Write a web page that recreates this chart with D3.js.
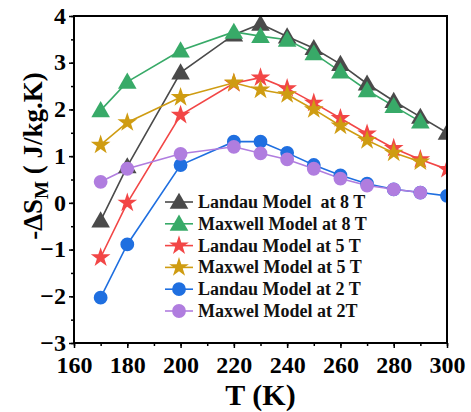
<!DOCTYPE html>
<html>
<head>
<meta charset="utf-8">
<script src="https://cdn.jsdelivr.net/npm/d3@7"></script>
<style>
  body { margin: 0; background: #fff; }
  svg text { font-family: "Liberation Serif", "Times New Roman", serif !important; font-weight: bold; }
</style>
</head>
<body>
<script>
const w = 471;
const h = 412;

const temps = [170, 180, 200, 220, 230, 240, 250, 260, 270, 280, 290, 300];
const landau8 = [-0.38, 0.78, 2.79, 3.6, 3.83, 3.56, 3.31, 2.97, 2.55, 2.18, 1.84, 1.5];
const maxwell8 = [1.98, 2.59, 3.26, 3.66, 3.57, 3.49, 3.2, 2.81, 2.41, 2.07, 1.74];
const landau5 = [-1.17, 0.0, 1.88, 2.56, 2.68, 2.45, 2.14, 1.81, 1.48, 1.17, 0.93, 0.72];
const maxwel5 = [1.24, 1.72, 2.26, 2.57, 2.42, 2.32, 2.0, 1.65, 1.34, 1.07, 0.88];
const landau2 = [-2.03, -0.89, 0.81, 1.31, 1.31, 1.07, 0.81, 0.59, 0.41, 0.29, 0.22, 0.15];
const maxwel2 = [0.45, 0.73, 1.05, 1.2, 1.06, 0.93, 0.73, 0.52, 0.37, 0.29, 0.22];

const seriesNames = [
  "Landau Model  at 8 T",
  "Maxwell Model at 8 T",
  "Landau Model at 5 T",
  "Maxwel Model at 5 T",
  "Landau Model at 2 T",
  "Maxwel Model at 2T"
];
const seriesValues = [landau8, maxwell8, landau5, maxwel5, landau2, maxwel2];
const colors = ["#4a4a4a", "#38aa68", "#f24646", "#cf9c12", "#1f6fe0", "#b07ddf"];
const shapes = ["triangle", "triangle", "star", "star", "circle", "circle"];

const xTicks = [160, 180, 200, 220, 240, 260, 280, 300];
const yTicks = [-3, -2, -1, 0, 1, 2, 3, 4];

const m = { t: 16, r: 24, b: 69, l: 74 };
const gw = w - m.l - m.r;
const gh = h - m.t - m.b;

const svg = d3.select("body").append("svg").attr("width", w).attr("height", h);

const x = d3.scaleLinear().domain([160, 300]).range([0, gw]);
const y = d3.scaleLinear().domain([-3, 4]).range([gh, 0]);

const g = svg.append("g").attr("transform", `translate(${m.l}, ${m.t})`);

g.append("clipPath").attr("id", "plot")
  .append("rect").attr("width", gw).attr("height", gh);

const symbolFor = (s) => {
  if (s === "triangle") return d3.symbol().type(d3.symbolTriangle).size(150)();
  if (s === "star") return d3.symbol().type(d3.symbolStar).size(120)();
  return d3.symbol().type(d3.symbolCircle).size(150)();
};

// minor ticks
const xMinor = d3.range(160, 301, 10);
const yMinor = d3.range(-3, 4.01, 0.5);

const xAxis = d3.axisBottom(x).tickValues(xTicks).tickSize(5).tickPadding(8).tickFormat(d3.format("d"));
const xAxisG = g.append("g").attr("transform", `translate(0, ${gh})`).call(xAxis);
g.append("g").attr("transform", `translate(0, ${gh})`)
  .call(d3.axisBottom(x).tickValues(xMinor).tickSize(3).tickFormat(""))
  .call((a) => a.select(".domain").remove());

const yAxis = d3.axisLeft(y).tickValues(yTicks).tickSize(5).tickPadding(3).tickFormat(d3.format("d"));
const yAxisG = g.append("g").call(yAxis);
g.append("g")
  .call(d3.axisLeft(y).tickValues(yMinor).tickSize(3).tickFormat(""))
  .call((a) => a.select(".domain").remove());

g.selectAll(".tick line").attr("stroke", "#000").attr("stroke-width", 1.5);
g.selectAll(".domain").remove();
[xAxisG, yAxisG].forEach((a) => {
  a.attr("font-family", "Liberation Serif").attr("font-size", 24);
  a.selectAll("text").attr("fill", "#000");
});
yAxisG.selectAll("text").attr("dy", "0.3em");

// series
const plot = g.append("g").attr("clip-path", "url(#plot)");
seriesValues.forEach((vals, i) => {
  const pts = vals.map((v, j) => [temps[j], v]);
  plot.append("path")
    .datum(pts)
    .attr("fill", "none")
    .attr("stroke", colors[i])
    .attr("stroke-width", 1.6)
    .attr("d", d3.line().x((d) => x(d[0])).y((d) => y(d[1])));
});
seriesValues.forEach((vals, i) => {
  const pts = vals.map((v, j) => [temps[j], v]);
  plot.selectAll(null)
    .data(pts)
    .enter()
    .append("path")
    .attr("d", symbolFor(shapes[i]))
    .attr("fill", colors[i])
    .attr("transform", (d) => `translate(${x(d[0])}, ${y(d[1]) + (shapes[i] === "triangle" ? 1.5 : 0)})`);
});

// frame
g.append("rect").attr("width", gw).attr("height", gh)
  .attr("fill", "none").attr("stroke", "#000").attr("stroke-width", 2);

// legend
const legend = g.append("g").attr("transform", `translate(${165 - m.l}, ${202 - m.t})`);
seriesNames.forEach((name, i) => {
  const row = legend.append("g").attr("transform", `translate(0, ${i * 21.8})`);
  row.append("line").attr("x1", 0).attr("x2", 28)
    .attr("stroke", colors[i]).attr("stroke-width", 1.6);
  row.append("path").attr("d", symbolFor(shapes[i])).attr("fill", colors[i])
    .attr("transform", `translate(14, ${shapes[i] === "triangle" ? 1.5 : 0})`);
  row.append("text").attr("x", 33).attr("y", 0).attr("dy", "0.33em")
    .attr("font-size", 18).attr("fill", "#111").style("white-space", "pre").text(name);
});

// axis titles
svg.append("text")
  .attr("x", m.l + gw / 2).attr("y", 405)
  .attr("text-anchor", "middle").attr("font-size", 30)
  .text("T (K)");

const yl = svg.append("text")
  .attr("transform", `translate(42, 156) rotate(-90)`)
  .attr("text-anchor", "middle").attr("font-size", 27);
yl.append("tspan").text("-ΔS");
yl.append("tspan").attr("font-size", 19).attr("dy", 6).text("M");
yl.append("tspan").attr("dy", -6).text(" ( J/kg.K)");
</script>
</body>
</html>
